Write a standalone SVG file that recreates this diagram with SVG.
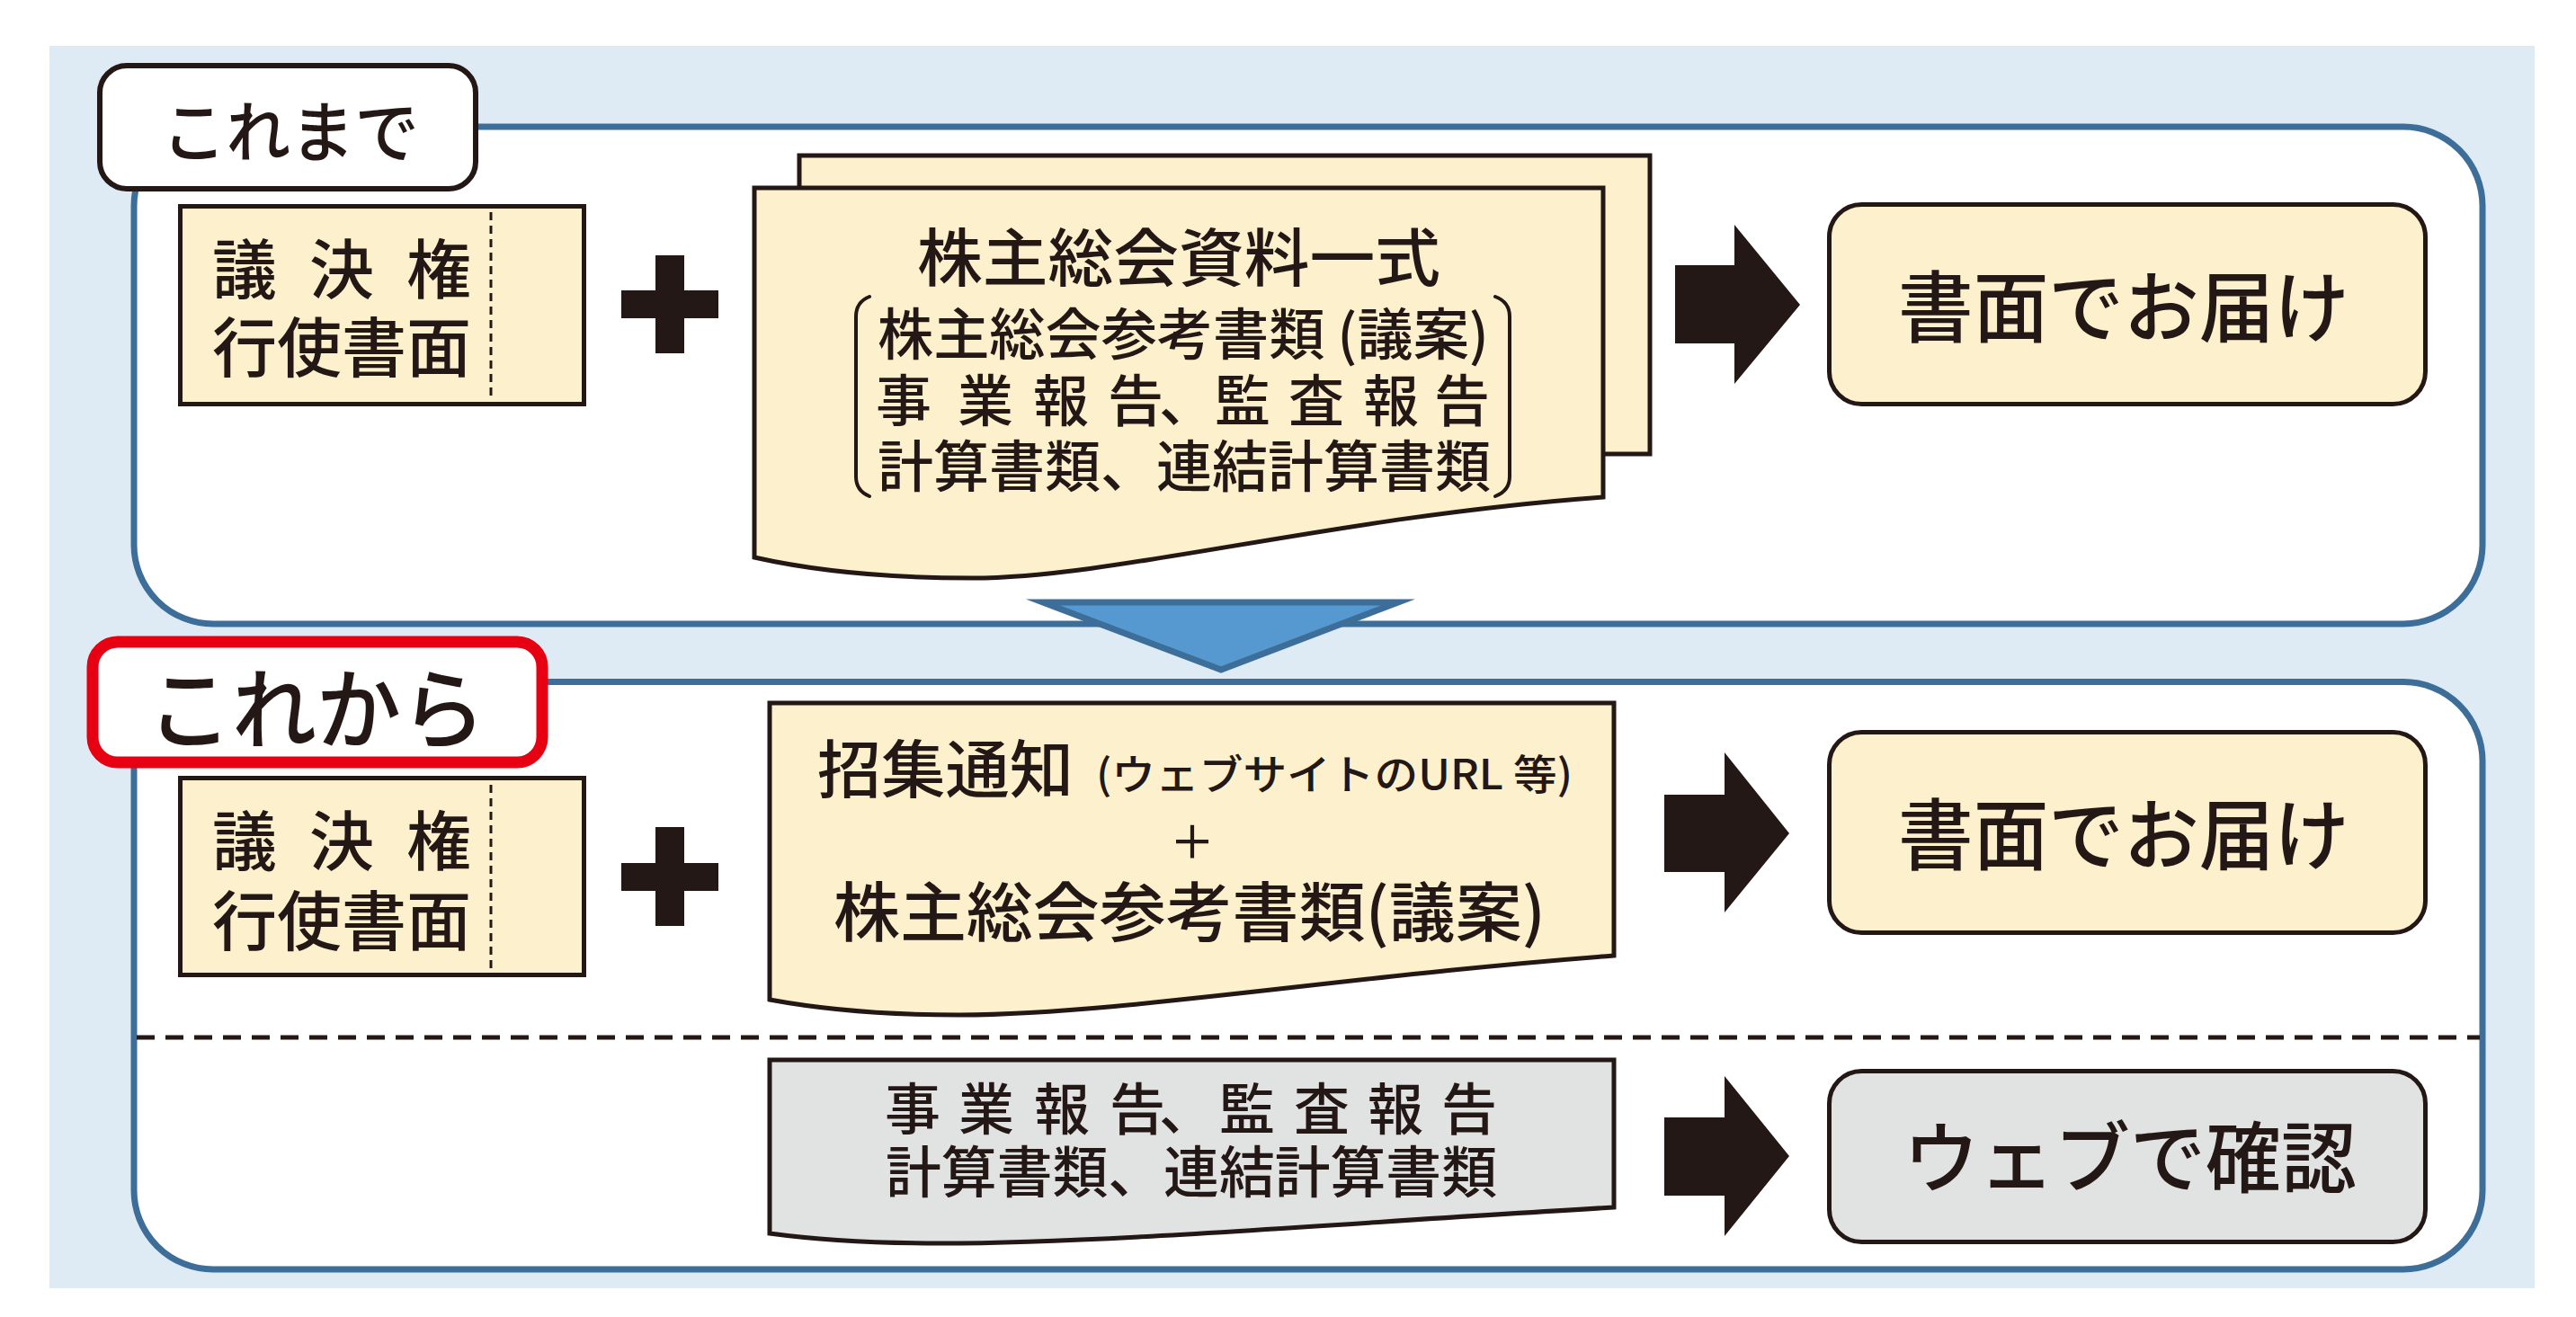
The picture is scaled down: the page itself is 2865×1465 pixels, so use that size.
<svg xmlns="http://www.w3.org/2000/svg" width="2865" height="1465" viewBox="0 0 2865 1465">
<defs>
<style>
.t{font-family:"Noto Sans CJK JP","Noto Sans CJK SC",sans-serif;fill:#231815;font-weight:500;dominant-baseline:central}
.panel{fill:#ffffff;stroke:#3d6e99;stroke-width:7}
.cream{fill:#fdf0cd;stroke:#231815;stroke-width:5}
.gray{fill:#e1e2e2;stroke:#231815;stroke-width:5}
.ink{fill:#231815}
.br{fill:none;stroke:#231815;stroke-width:4;stroke-linecap:round}
</style>
</defs>
<rect x="0" y="0" width="2865" height="1465" fill="#ffffff"/>
<rect x="55" y="51" width="2764" height="1382" fill="#deeaf4"/>

<g id="panel-before">
<rect class="panel" x="149" y="141" width="2612" height="553" rx="88" ry="88"/>
</g>
<g id="panel-after">
<rect class="panel" x="149" y="758.5" width="2612" height="653.5" rx="88" ry="88"/>
<line x1="152" y1="1154" x2="2758" y2="1154" stroke="#231815" stroke-width="5" stroke-dasharray="20 12"/>
</g>

<g id="label-before">
<rect x="111" y="73" width="418" height="137" rx="30" fill="#ffffff" stroke="#231815" stroke-width="6"/>
<text class="t" x="180" y="141" font-size="74" textLength="286" lengthAdjust="spacingAndGlyphs">これまで</text>
</g>
<g id="label-after">
<rect x="103" y="714" width="500" height="134" rx="28" fill="#ffffff" stroke="#e60012" stroke-width="13"/>
<text class="t" x="164" y="782" font-size="98" textLength="376" lengthAdjust="spacingAndGlyphs">これから</text>
</g>

<g id="vote-form-before">
<rect class="cream" x="200.5" y="229.5" width="449" height="220"/>
<line x1="546" y1="236" x2="546" y2="444" stroke="#231815" stroke-width="3" stroke-dasharray="9 6"/>
<text class="t" x="236" y="294.5" font-size="72" letter-spacing="36">議決権</text>
<text class="t" x="236" y="381.5" font-size="72">行使書面</text>
</g>
<g id="plus-before">
<rect class="ink" x="729" y="284" width="32" height="109"/>
<rect class="ink" x="691" y="323" width="108" height="31"/>
</g>
<g id="docs-before">
<rect class="cream" x="889" y="173" width="946" height="332"/>
<path class="cream" d="M839,209 H1783 V553 C1480,575 1240,643 1081,643 C990,643 910,636 839,620 Z"/>
<text class="t" x="1020" y="282.5" font-size="70" textLength="582" lengthAdjust="spacingAndGlyphs">株主総会資料一式</text>
<path class="br" d="M967,330 Q952,336 952,352 V530 Q952,546 967,552"/>
<path class="br" d="M1663,330 Q1679,336 1679,352 V530 Q1679,546 1663,552"/>
<text class="t" x="976" y="368" font-size="62" textLength="680" lengthAdjust="spacingAndGlyphs">株主総会参考書類 (議案)</text>
<text class="t" x="974 1065 1149 1232 1289 1351 1433 1516 1595" y="442" font-size="62">事業報告、監査報告</text>
<text class="t" x="976" y="515" font-size="62" textLength="682" lengthAdjust="spacingAndGlyphs">計算書類、連結計算書類</text>
</g>
<g id="result-before">
<rect class="cream" x="2034.5" y="227.5" width="663" height="222" rx="36"/>
<text class="t" x="2111" y="336" font-size="86" textLength="502" lengthAdjust="spacingAndGlyphs">書面でお届け</text>
</g>

<g id="vote-form-after">
<rect class="cream" x="200.5" y="865.5" width="449" height="219"/>
<line x1="546" y1="873" x2="546" y2="1080" stroke="#231815" stroke-width="3" stroke-dasharray="9 6"/>
<text class="t" x="236" y="930" font-size="72" letter-spacing="36">議決権</text>
<text class="t" x="236" y="1019.5" font-size="72">行使書面</text>
</g>
<g id="plus-after">
<rect class="ink" x="729" y="920" width="32" height="110"/>
<rect class="ink" x="691" y="960" width="108" height="31"/>
</g>
<g id="doc-notice">
<path class="cream" d="M856,782 H1795 V1063 C1500,1085 1250,1128 1067,1129 C980,1129 910,1122 856,1112 Z"/>
<text class="t" x="909" y="851.5" font-size="70" textLength="285" lengthAdjust="spacingAndGlyphs">招集通知</text>
<text class="t" x="1219" y="857.5" font-size="46" textLength="530" lengthAdjust="spacingAndGlyphs">(ウェブサイトのURL 等)</text>
<text class="t" x="1326" y="933" font-size="50" font-weight="400" text-anchor="middle">＋</text>
<text class="t" x="927" y="1009.5" font-size="72" textLength="792" lengthAdjust="spacingAndGlyphs">株主総会参考書類(議案)</text>
</g>
<g id="result-after">
<rect class="cream" x="2034.5" y="814.5" width="663" height="223" rx="36"/>
<text class="t" x="2111" y="923" font-size="86" textLength="502" lengthAdjust="spacingAndGlyphs">書面でお届け</text>
</g>
<g id="doc-web">
<path class="gray" d="M856,1179 H1795 V1343 C1500,1360 1230,1383 1046,1383 C960,1383 900,1378 856,1372 Z"/>
<text class="t" x="984 1066 1150 1234 1289 1356 1439 1521 1603" y="1230" font-size="62">事業報告、監査報告</text>
<text class="t" x="985" y="1299.5" font-size="62" textLength="680" lengthAdjust="spacingAndGlyphs">計算書類、連結計算書類</text>
</g>
<g id="result-web">
<rect class="gray" x="2034.5" y="1191.5" width="663" height="190" rx="36"/>
<text class="t" x="2117" y="1282" font-size="86" textLength="504" lengthAdjust="spacingAndGlyphs">ウェブで確認</text>
</g>

<g id="connectors">
<polygon points="1160,670 1555,670 1358,745" fill="#5599d0" stroke="#3d6e99" stroke-width="7" stroke-linejoin="miter" stroke-miterlimit="10"/>
<polygon class="ink" points="1863,295 1929,295 1929,250 2002,339 1929,427 1929,382 1863,382"/>
<polygon class="ink" points="1851,884 1918,884 1918,837 1990,927 1918,1015 1918,970 1851,970"/>
<polygon class="ink" points="1851,1243 1918,1243 1918,1197 1990,1286 1918,1375 1918,1330 1851,1330"/>
</g>
</svg>
